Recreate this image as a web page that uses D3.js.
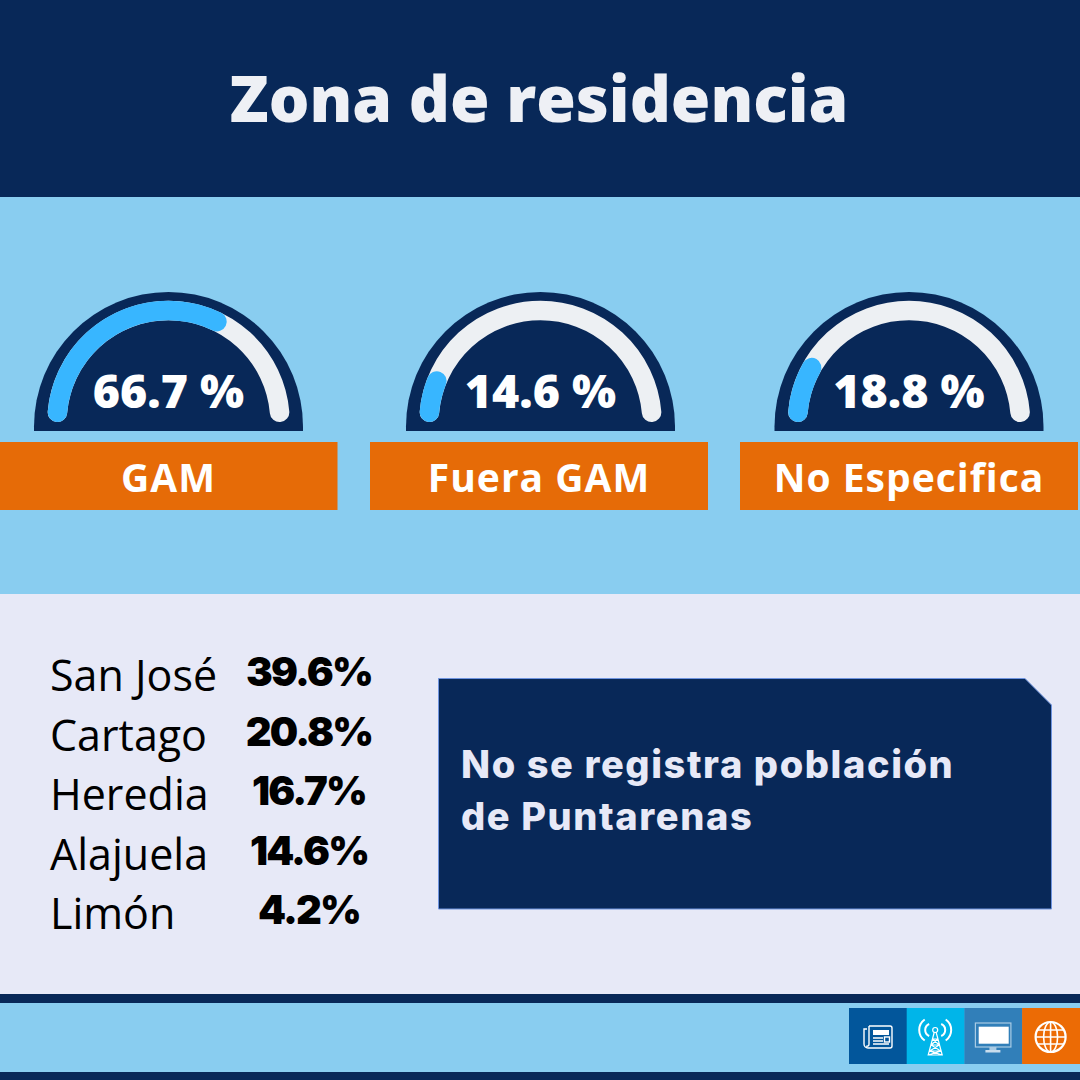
<!DOCTYPE html>
<html>
<head>
<meta charset="utf-8">
<script src="https://cdn.jsdelivr.net/npm/d3@7"></script>
<style>
html, body { margin: 0; padding: 0; background: #e7e9f7; }
svg { display: block; }
</style>
</head>
<body>
<script>
var zoneLabels = ["GAM", "Fuera GAM", "No Especifica"];
var zoneValues = [66.7, 14.6, 18.8];
var provinces = ["San José", "Cartago", "Heredia", "Alajuela", "Limón"];
var provinceValues = [39.6, 20.8, 16.7, 14.6, 4.2];
var noteLines = ["No se registra población", "de Puntarenas"];

var navy = "#082858", sky = "#89cdf0", lilac = "#e7e9f7", orange = "#e66b07",
    track = "#edf0f3", blue = "#38b6ff";

var svg = d3.select("body").append("svg").attr("width", 1080).attr("height", 1080);

function band(y0, y1, fill) {
  svg.append("rect").attr("x", 0).attr("y", y0).attr("width", 1080).attr("height", y1 - y0).attr("fill", fill);
}
band(0, 197, navy);
band(197, 594, sky);
band(594, 994, lilac);
band(994, 1003, navy);
band(1003, 1072, sky);
band(1072, 1080, navy);

svg.append("text")
  .attr("x", 539).attr("y", 122)
  .attr("text-anchor", "middle")
  .attr("font-family", "Open Sans").attr("font-weight", 800).attr("font-size", 64)
  .attr("fill", "#eef0f5")
  .text("Zona de residencia");

// gauges
var gaugeX = d3.scaleOrdinal().domain(zoneLabels).range([168.5, 540.5, 909]);
var labelX = d3.scaleOrdinal().domain(zoneLabels).range([168.5, 539, 909]);

var angle = d3.scaleLinear().domain([0, 100]).range([-94.8, 86]);
var trackFrom = -85, trackTo = 85, radius = 111.5;

function arcPath(from, to) {
  var p = d3.path();
  p.arc(0, 0, radius, (from - 90) * Math.PI / 180, (to - 90) * Math.PI / 180);
  return p.toString();
}

var gauges = svg.selectAll(".gauge")
  .data(zoneLabels)
  .enter().append("g")
    .attr("class", "gauge")
    .attr("transform", function(d) { return "translate(" + gaugeX(d) + ",422)"; });

gauges.append("path")
  .attr("d", "M-134.5,9V4.5A134.5,134.5 0 0 1 134.5,4.5V9Z")
  .attr("fill", navy);

gauges.append("path")
  .attr("d", arcPath(trackFrom, trackTo))
  .attr("fill", "none").attr("stroke", track).attr("stroke-width", 19.5).attr("stroke-linecap", "round");

gauges.append("path")
  .attr("d", function(d, i) { return arcPath(trackFrom, angle(zoneValues[i])); })
  .attr("fill", "none").attr("stroke", blue).attr("stroke-width", 19.5).attr("stroke-linecap", "round");

gauges.append("text")
  .attr("y", -14)
  .attr("text-anchor", "middle")
  .attr("font-family", "Open Sans").attr("font-weight", 800).attr("font-size", 46.5)
  .attr("fill", "#ffffff")
  .text(function(d, i) { return zoneValues[i].toFixed(1) + " %"; });

var boxes = svg.selectAll(".zone")
  .data(zoneLabels)
  .enter().append("g")
    .attr("class", "zone");

boxes.append("rect")
  .attr("x", function(d) { return labelX(d) - 169; })
  .attr("y", 442).attr("width", 338).attr("height", 68)
  .attr("fill", orange);

boxes.append("text")
  .attr("x", function(d) { return labelX(d); })
  .attr("y", 492)
  .attr("text-anchor", "middle")
  .attr("font-family", "Open Sans").attr("font-weight", 700).attr("font-size", 39)
  .attr("letter-spacing", 1)
  .attr("fill", "#ffffff")
  .text(function(d) { return d; });

// province list
var rowY = d3.scalePoint().domain(provinces).range([691, 929]);

svg.selectAll(".prov")
  .data(provinces)
  .enter().append("text")
    .attr("class", "prov")
    .attr("x", 50)
    .attr("y", function(d) { return rowY(d); })
    .attr("font-family", "Open Sans").attr("font-size", 43)
    .attr("fill", "#000000")
    .text(function(d) { return d; });

svg.selectAll(".provVal")
  .data(provinces)
  .enter().append("text")
    .attr("class", "provVal")
    .attr("x", 309)
    .attr("y", function(d) { return rowY(d) - 5; })
    .attr("text-anchor", "middle")
    .attr("font-family", "Inter").attr("font-weight", 900).attr("font-size", 40)
    .attr("letter-spacing", -1.8)
    .attr("fill", "#000000")
    .text(function(d, i) { return provinceValues[i].toFixed(1) + "%"; });

// note box
svg.append("path")
  .attr("d", "M438.5,678.5H1025L1051.5,705V909H438.5Z")
  .attr("fill", navy).attr("stroke", "#6f94e0").attr("stroke-width", 1);

svg.selectAll(".note")
  .data(noteLines)
  .enter().append("text")
    .attr("class", "note")
    .attr("x", 461)
    .attr("y", function(d, i) { return 778 + i * 52; })
    .attr("font-family", "Inter").attr("font-weight", 800).attr("font-size", 38)
    .attr("letter-spacing", 1.6)
    .attr("fill", lilac)
    .text(function(d) { return d; });

// media icons
var iconFill = ["#02569b", "#00b5e9", "#317fb9", "#ec6b05"];
var icons = svg.selectAll(".icon")
  .data(iconFill)
  .enter().append("g")
    .attr("class", "icon")
    .attr("transform", function(d, i) { return "translate(" + (849 + i * 57.7) + ",1008)"; });

icons.append("rect")
  .attr("width", 58).attr("height", 56)
  .attr("fill", function(d) { return d; });

// newspaper
var news = d3.select(icons.nodes()[0]).append("g")
  .attr("fill", "none").attr("stroke", "#ffffff").attr("stroke-width", 1.4);
news.append("path").attr("d", "M20,18H41a2,2 0 0 1 2,2V38a2,2 0 0 1 -2,2H19a4,4 0 0 1 -4,-4V21H18");
news.append("path").attr("d", "M20,18V36a2,2 0 0 1 -3,2");
news.append("rect").attr("x", 24).attr("y", 22).attr("width", 16).attr("height", 5).attr("fill", "#ffffff").attr("stroke", "none");
news.append("path").attr("d", "M24,30H34M24,33H34M24,36H40");
news.append("rect").attr("x", 35.5).attr("y", 29).attr("width", 5).attr("height", 5);

// antenna
var tower = d3.select(icons.nodes()[1]).append("g")
  .attr("fill", "none").attr("stroke", "#ffffff").attr("stroke-width", 1.2);
tower.append("circle").attr("cx", 28.5).attr("cy", 22).attr("r", 2.5);
tower.append("path").attr("d", "M27.5,24.5L21.5,47H35.5L29.5,24.5M26,31H31M24.5,37H32.5M23,43H34M26,31L32.5,37L23,43L35.5,47M31,31L24.5,37L34,43L21.5,47");
tower.append("path").attr("d", "M22.5,16A6.5,6.5 0 0 0 22.5,28M34.5,16A6.5,6.5 0 0 1 34.5,28M18,11.5A12.8,12.8 0 0 0 18,32.5M39,11.5A12.8,12.8 0 0 1 39,32.5").attr("stroke-width", 2);

// monitor
var screen = d3.select(icons.nodes()[2]).append("g");
screen.append("rect").attr("x", 11).attr("y", 15).attr("width", 35.5).attr("height", 24).attr("fill", "none").attr("stroke", "#a9cbe4").attr("stroke-width", 1.2);
screen.append("rect").attr("x", 14.3).attr("y", 18.7).attr("width", 30).attr("height", 17).attr("fill", "#ffffff");
screen.append("rect").attr("x", 25).attr("y", 39).attr("width", 7).attr("height", 3).attr("fill", "#a9cbe4");
screen.append("rect").attr("x", 21).attr("y", 42).attr("width", 15).attr("height", 2.5).attr("fill", "#c9dded");

// globe
var globe = d3.select(icons.nodes()[3]).append("g")
  .attr("fill", "none").attr("stroke", "#ffffff").attr("stroke-width", 1.6)
  .attr("transform", "translate(28.5,29)");
globe.append("circle").attr("r", 15).attr("stroke-width", 2.2);
globe.append("ellipse").attr("rx", 7).attr("ry", 15);
globe.append("path").attr("d", "M0,-15V15M-15,0H15M-13,-7H13M-13,7H13");
</script>
</body>
</html>
